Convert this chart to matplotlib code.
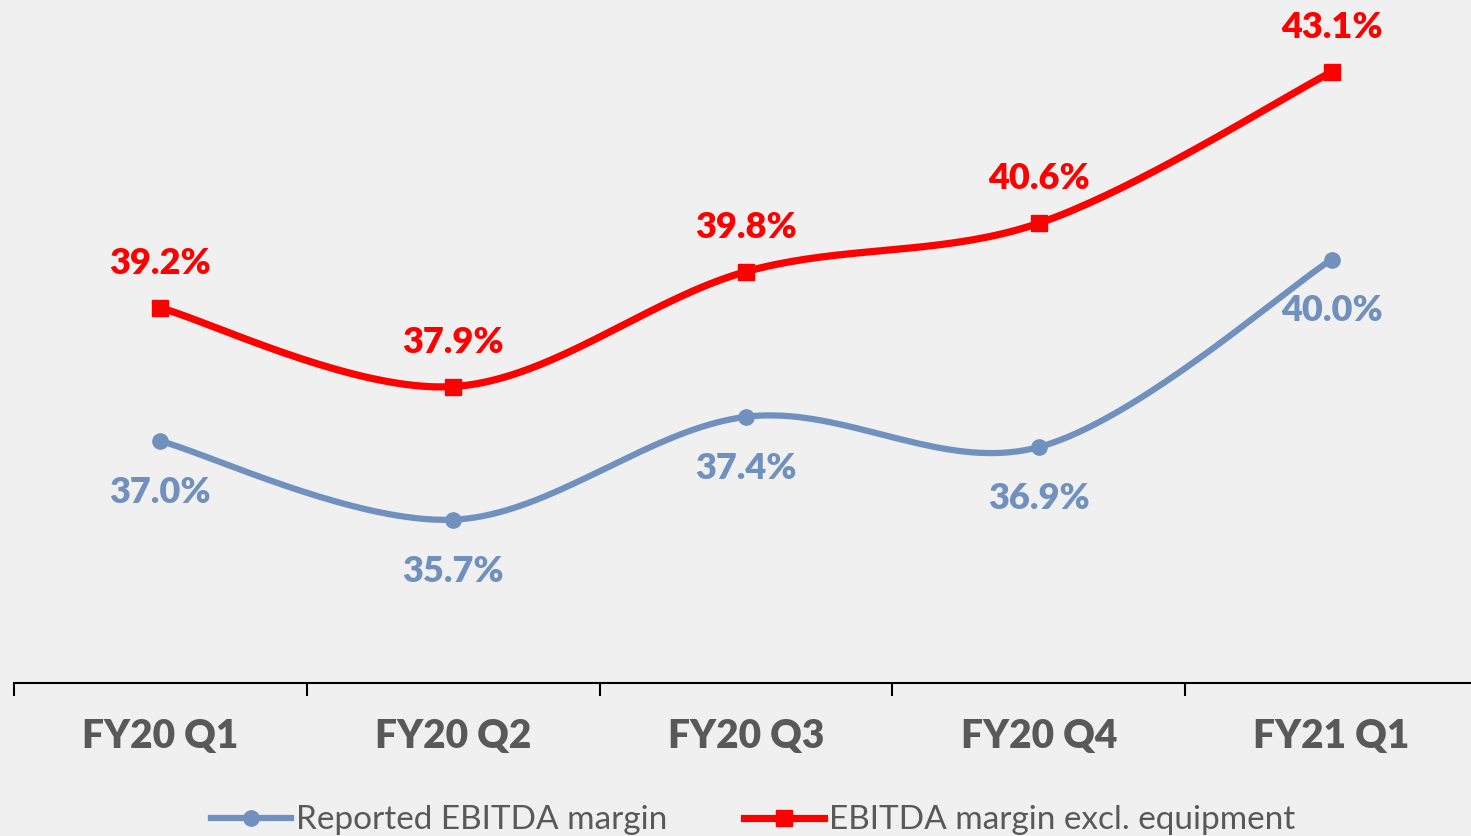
import numpy as np
import matplotlib
matplotlib.use("Agg")
import matplotlib.pyplot as plt
from matplotlib.lines import Line2D

OUT = "out.png"

quarters = ["FY20 Q1", "FY20 Q2", "FY20 Q3", "FY20 Q4", "FY21 Q1"]
reported = [37.0, 35.7, 37.4, 36.9, 40.0]
excl_equipment = [39.2, 37.9, 39.8, 40.6, 43.1]

BG = "#f0f0f0"
RED = "#ff0000"
BLUE = "#7090bd"
GREY = "#595959"


def smooth(xs, ys, n=40):
    # excel-style smoothed line: cubic bezier with control points at 1/6 of neighbour span
    xs = np.asarray(xs, float)
    ys = np.asarray(ys, float)
    px = np.concatenate([[xs[0]], xs, [xs[-1]]])
    py = np.concatenate([[ys[0]], ys, [ys[-1]]])
    outx, outy = [], []
    t = np.linspace(0, 1, n)
    for i in range(len(xs) - 1):
        p0 = np.array([px[i + 1], py[i + 1]])
        p3 = np.array([px[i + 2], py[i + 2]])
        c1 = p0 + (np.array([px[i + 2], py[i + 2]]) - np.array([px[i], py[i]])) / 6
        c2 = p3 - (np.array([px[i + 3], py[i + 3]]) - np.array([px[i + 1], py[i + 1]])) / 6
        b = ((1 - t) ** 3)[:, None] * p0 + (3 * (1 - t) ** 2 * t)[:, None] * c1 \
            + (3 * (1 - t) * t ** 2)[:, None] * c2 + (t ** 3)[:, None] * p3
        outx.extend(b[:, 0])
        outy.extend(b[:, 1])
    return outx, outy


def main():
    fig = plt.figure(figsize=(14.71, 8.36), dpi=100)
    fig.patch.set_facecolor(BG)
    ax = fig.add_axes([14 / 1471, 1 - 683 / 836, 1 - 14 / 1471, 683 / 836])
    ax.set_facecolor(BG)

    x = np.arange(len(quarters))
    sx, sy = smooth(x, reported)
    ax.plot(sx, sy, color=BLUE, lw=4.5, solid_capstyle="round")
    ax.plot(x, reported, "o", color=BLUE, ms=11)
    sx, sy = smooth(x, excl_equipment)
    ax.plot(sx, sy, color=RED, lw=5.2, solid_capstyle="butt")
    ax.plot(x, excl_equipment, "s", color=RED, ms=12)

    for i, (r, e) in enumerate(zip(reported, excl_equipment)):
        ax.annotate(f"{e:.1f}%", (i, e), xytext=(0, 32), textcoords="offset points",
                    ha="center", va="center", color=RED, fontsize=26,
                    fontweight="heavy", family="Lato")
        ax.annotate(f"{r:.1f}%", (i, r), xytext=(0, -37), textcoords="offset points",
                    ha="center", va="center", color=BLUE, fontsize=26,
                    fontweight="heavy", family="Lato")

    ax.set_yticks([])
    for s in ["top", "right", "left"]:
        ax.spines[s].set_visible(False)
    ax.spines["bottom"].set_linewidth(1.5)
    ax.set_xticks(np.arange(-0.5, 5, 1.0))
    ax.set_xticklabels([])
    ax.tick_params(axis="x", length=9, width=1.5, direction="out")
    ax.set_xlim(-0.5, 4.476)
    ax.set_ylim(33.0, 44.29)
    for i, q in enumerate(quarters):
        ax.text(i, -0.079, q, transform=ax.get_xaxis_transform(), ha="center", va="center",
                fontsize=28, fontweight="heavy", color=GREY, family="Lato")

    handles = [Line2D([], [], color=BLUE, lw=4.5, marker="o", ms=11),
               Line2D([], [], color=RED, lw=5.2, marker="s", ms=12)]
    fig.legend(handles, ["Reported EBITDA margin", "EBITDA margin excl. equipment"],
               loc="lower center", bbox_to_anchor=(0.512, -0.035), ncol=2, frameon=False,
               handlelength=2.4, handletextpad=0.15, columnspacing=2.3,
               prop={"family": "Lato", "size": 24},
               labelcolor=GREY)

    fig.savefig(OUT, dpi=100, facecolor=BG)
    plt.close(fig)


if __name__ == "__main__":
    main()
